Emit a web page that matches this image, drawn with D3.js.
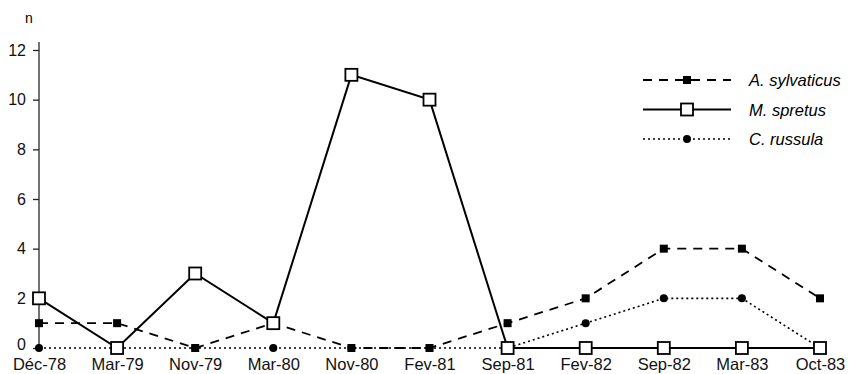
<!DOCTYPE html>
<html>
<head>
<meta charset="utf-8">
<script src="https://cdn.jsdelivr.net/npm/d3@7"></script>
<style>
  body { margin: 0; background: #fff; }
  svg { display: block; font-family: "Liberation Sans", Arial, sans-serif; }
</style>
</head>
<body>
<script>
// sampling dates (x categories)
var dates = ['Déc-78', 'Mar-79', 'Nov-79', 'Mar-80', 'Nov-80', 'Fev-81',
  'Sep-81', 'Fev-82', 'Sep-82', 'Mar-83', 'Oct-83'];

// captures per species
var sylvaticus = [1, 1, 0, 1, 0, 0, 1, 2, 4, 4, 2];
var spretus = [2, 0, 3, 1, 11, 10, 0, 0, 0, 0, 0];
var russula = [0, 0, 0, 0, 0, 0, 0, 1, 2, 2, 0];

var yTicks = [0, 2, 4, 6, 8, 10, 12];

var width = 849,
  height = 374;

var svg = d3
  .select('body')
  .append('svg')
  .attr('width', width)
  .attr('height', height);

var x = d3.scalePoint().domain(dates).range([39, 820]);
var y = d3.scaleLinear().domain([0, 12]).range([348, 50]);

// y axis
var yAxis = svg
  .append('g')
  .attr('transform', 'translate(39,0)')
  .call(d3.axisLeft(y).tickValues(yTicks).tickSize(6).tickPadding(7));
yAxis.select('.domain').attr('d', 'M0,42V348').attr('stroke', '#444').attr('stroke-width', 1.5);
yAxis.selectAll('.tick line').attr('stroke', '#222').attr('stroke-width', 1.3);
yAxis
  .selectAll('.tick text')
  .attr('font-size', 16)
  .attr('fill', '#111')
  .attr('font-family', '"Liberation Sans", Arial, sans-serif');
// lift the 0 label a little so it clears the date below
yAxis
  .selectAll('.tick text')
  .filter(function(d) {
    return d === 0;
  })
  .attr('dy', '0.1em');

svg
  .append('text')
  .attr('x', 29)
  .attr('y', 23)
  .attr('text-anchor', 'middle')
  .attr('font-size', 14)
  .text('n');

// x labels (no axis line)
var xAxis = svg
  .append('g')
  .attr('transform', 'translate(0,348)')
  .call(d3.axisBottom(x).tickSize(0).tickPadding(10));
xAxis.select('.domain').remove();
xAxis
  .selectAll('.tick text')
  .attr('font-size', 16.5)
  .attr('fill', '#111')
  .attr('font-family', '"Liberation Sans", Arial, sans-serif');

var series = [
  { name: 'C. russula', values: russula, dash: '2,3', width: 1.6, marker: 'circle' },
  { name: 'A. sylvaticus', values: sylvaticus, dash: '9,7', width: 1.8, marker: 'filled' },
  { name: 'M. spretus', values: spretus, dash: null, width: 2, marker: 'open' }
];

var line = d3
  .line()
  .x(function(d, i) {
    return x(dates[i]);
  })
  .y(function(d) {
    return y(d);
  });

series.forEach(function(s) {
  svg
    .append('path')
    .datum(s.values)
    .attr('d', line)
    .attr('fill', 'none')
    .attr('stroke', '#000')
    .attr('stroke-width', s.width)
    .attr('stroke-dasharray', s.dash);
});

function drawMarker(g, type, cx, cy) {
  if (type === 'circle') {
    g.append('circle').attr('cx', cx).attr('cy', cy).attr('r', 4).attr('fill', '#000');
  } else if (type === 'filled') {
    g.append('rect')
      .attr('x', cx - 4)
      .attr('y', cy - 4)
      .attr('width', 8)
      .attr('height', 8)
      .attr('fill', '#000');
  } else {
    g.append('rect')
      .attr('x', cx - 6)
      .attr('y', cy - 6)
      .attr('width', 12)
      .attr('height', 12)
      .attr('fill', '#fff')
      .attr('stroke', '#000')
      .attr('stroke-width', 1.8);
  }
}

var marks = svg.append('g');
series.forEach(function(s) {
  s.values.forEach(function(v, i) {
    drawMarker(marks, s.marker, x(dates[i]), y(v));
  });
});

// legend
var legendOrder = [series[1], series[2], series[0]];
var legend = svg.append('g');
legendOrder.forEach(function(s, i) {
  var ly = 80 + i * 29.5;
  legend
    .append('line')
    .attr('x1', 643)
    .attr('x2', 731)
    .attr('y1', ly)
    .attr('y2', ly)
    .attr('stroke', '#000')
    .attr('stroke-width', s.width)
    .attr('stroke-dasharray', s.dash);
  drawMarker(legend, s.marker, 687, ly);
  legend
    .append('text')
    .attr('x', 749)
    .attr('y', ly + 6)
    .attr('font-size', 16.5)
    .attr('font-style', 'italic')
    .text(s.name);
});
</script>
</body>
</html>
